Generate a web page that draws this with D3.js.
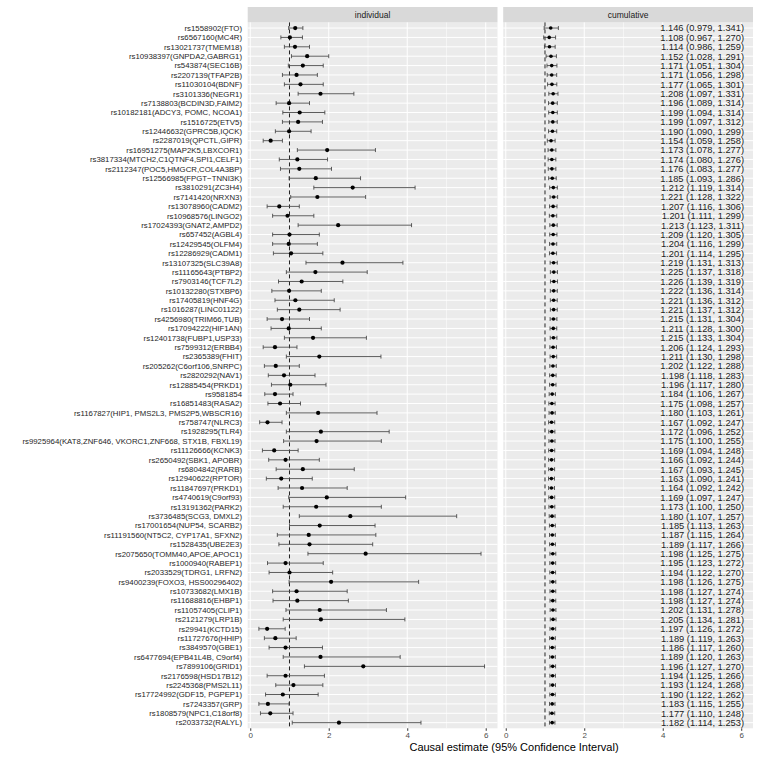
<!DOCTYPE html>
<html lang="en">
<head>
<meta charset="UTF-8">
<title>Causal estimate forest plot</title>
<script src="https://d3js.org/d3.v7.min.js"></script>
<style>
  body { margin: 0; background: #fff; }
  svg { font-family: "Liberation Sans", Arial, sans-serif; }
</style>
</head>
<body>
<svg id="chart" width="760" height="760"></svg>
<script>
const snps = [
  "rs1558902(FTO)", "rs6567160(MC4R)", "rs13021737(TMEM18)", "rs10938397(GNPDA2,GABRG1)",
  "rs543874(SEC16B)", "rs2207139(TFAP2B)", "rs11030104(BDNF)", "rs3101336(NEGR1)",
  "rs7138803(BCDIN3D,FAIM2)", "rs10182181(ADCY3, POMC, NCOA1)", "rs1516725(ETV5)",
  "rs12446632(GPRC5B,IQCK)", "rs2287019(QPCTL,GIPR)", "rs16951275(MAP2K5,LBXCOR1)",
  "rs3817334(MTCH2,C1QTNF4,SPI1,CELF1)", "rs2112347(POC5,HMGCR,COL4A3BP)",
  "rs12566985(FPGT\u2212TNNI3K)", "rs3810291(ZC3H4)", "rs7141420(NRXN3)", "rs13078960(CADM2)",
  "rs10968576(LINGO2)", "rs17024393(GNAT2,AMPD2)", "rs657452(AGBL4)", "rs12429545(OLFM4)",
  "rs12286929(CADM1)", "rs13107325(SLC39A8)", "rs11165643(PTBP2)", "rs7903146(TCF7L2)",
  "rs10132280(STXBP6)", "rs17405819(HNF4G)", "rs1016287(LINC01122)", "rs4256980(TRIM66,TUB)",
  "rs17094222(HIF1AN)", "rs12401738(FUBP1,USP33)", "rs7599312(ERBB4)", "rs2365389(FHIT)",
  "rs205262(C6orf106,SNRPC)", "rs2820292(NAV1)", "rs12885454(PRKD1)", "rs9581854",
  "rs16851483(RASA2)", "rs1167827(HIP1, PMS2L3, PMS2P5,WBSCR16)", "rs758747(NLRC3)",
  "rs1928295(TLR4)", "rs9925964(KAT8,ZNF646, VKORC1,ZNF668, STX1B, FBXL19)",
  "rs11126666(KCNK3)", "rs2650492(SBK1, APOBR)", "rs6804842(RARB)", "rs12940622(RPTOR)",
  "rs11847697(PRKD1)", "rs4740619(C9orf93)", "rs13191362(PARK2)", "rs3736485(SCG3, DMXL2)",
  "rs17001654(NUP54, SCARB2)", "rs11191560(NT5C2, CYP17A1, SFXN2)", "rs1528435(UBE2E3)",
  "rs2075650(TOMM40,APOE,APOC1)", "rs1000940(RABEP1)", "rs2033529(TDRG1, LRFN2)",
  "rs9400239(FOXO3, HSS00296402)", "rs10733682(LMX1B)", "rs11688816(EHBP1)",
  "rs11057405(CLIP1)", "rs2121279(LRP1B)", "rs29941(KCTD15)", "rs11727676(HHIP)",
  "rs3849570(GBE1)", "rs6477694(EPB41L4B, C9orf4)", "rs7899106(GRID1)", "rs2176598(HSD17B12)",
  "rs2245368(PMS2L11)", "rs17724992(GDF15, PGPEP1)", "rs7243357(GRP)",
  "rs1808579(NPC1,C18orf8)", "rs2033732(RALYL)"
];

// individual causal estimates
const indEst = [1.146, 1.01, 1.14, 1.45, 1.34, 1.18, 1.28, 1.79, 0.99, 1.26, 1.22, 0.99, 0.52, 1.96, 1.20,
  1.25, 1.67, 2.61, 1.71, 0.74, 0.95, 2.24, 1.00, 0.98, 1.04, 2.35, 1.66, 1.31, 0.99, 1.15,
  1.25, 0.81, 0.98, 1.60, 0.63, 1.76, 0.65, 0.86, 1.02, 0.63, 0.76, 1.73, 0.44, 1.80, 1.69,
  0.61, 0.90, 1.34, 0.79, 1.32, 1.95, 1.68, 2.55, 1.77, 1.49, 1.51, 2.94, 0.90, 1.00, 2.06,
  1.18, 1.20, 1.77, 1.80, 0.43, 0.64, 0.90, 1.79, 2.88, 0.90, 1.10, 0.83, 0.45, 0.51, 2.26];
const indLow = [0.979, 0.78, 0.87, 1.05, 0.97, 0.82, 0.87, 1.22, 0.66, 0.83, 0.82, 0.64, 0.33, 1.20, 0.74,
  0.77, 0.99, 1.62, 1.03, 0.43, 0.57, 1.22, 0.57, 0.57, 0.59, 1.42, 0.92, 0.72, 0.55, 0.63,
  0.69, 0.43, 0.53, 0.87, 0.33, 0.92, 0.36, 0.46, 0.54, 0.37, 0.45, 0.92, 0.24, 0.92, 0.85,
  0.31, 0.47, 0.66, 0.41, 0.71, 0.98, 0.84, 1.25, 1.00, 0.69, 0.73, 1.47, 0.44, 0.48, 0.99,
  0.57, 0.58, 0.91, 0.84, 0.22, 0.36, 0.48, 0.84, 1.38, 0.43, 0.65, 0.39, 0.22, 0.26, 1.07];
const indUp = [1.341, 1.33, 1.51, 2.00, 1.86, 1.71, 1.86, 2.64, 1.51, 1.90, 1.84, 1.55, 0.82, 3.19, 1.97,
  2.07, 2.81, 4.20, 2.94, 1.25, 1.62, 4.11, 1.76, 1.71, 1.85, 3.89, 2.98, 2.36, 1.81, 2.14,
  2.29, 1.51, 1.81, 2.96, 1.19, 3.33, 1.25, 1.65, 1.93, 1.09, 1.28, 3.23, 0.81, 3.54, 3.34,
  1.22, 1.76, 2.65, 1.58, 2.47, 3.96, 3.34, 5.26, 3.18, 3.20, 3.12, 5.88, 1.86, 2.10, 4.29,
  2.47, 2.50, 3.47, 3.94, 0.89, 1.17, 1.84, 3.82, 5.97, 1.89, 1.85, 1.73, 0.99, 1.09, 4.35];

// cumulative estimates (printed values)
const cumEst = [1.146, 1.108, 1.114, 1.152, 1.171, 1.171, 1.177, 1.208, 1.196, 1.199, 1.199, 1.190, 1.154,
  1.173, 1.174, 1.176, 1.185, 1.212, 1.221, 1.207, 1.201, 1.213, 1.209, 1.204, 1.201, 1.219, 1.225,
  1.226, 1.222, 1.221, 1.221, 1.215, 1.211, 1.215, 1.206, 1.211, 1.202, 1.198, 1.196, 1.184, 1.175,
  1.180, 1.167, 1.172, 1.175, 1.169, 1.166, 1.167, 1.163, 1.164, 1.169, 1.173, 1.180, 1.185, 1.187,
  1.189, 1.198, 1.195, 1.194, 1.198, 1.198, 1.198, 1.202, 1.205, 1.197, 1.189, 1.186, 1.189, 1.196,
  1.194, 1.193, 1.190, 1.183, 1.177, 1.182];
const cumLow = [0.979, 0.967, 0.986, 1.028, 1.051, 1.056, 1.065, 1.097, 1.089, 1.094, 1.097, 1.090, 1.059,
  1.078, 1.080, 1.083, 1.093, 1.119, 1.128, 1.116, 1.111, 1.123, 1.120, 1.116, 1.114, 1.131, 1.137,
  1.139, 1.136, 1.136, 1.137, 1.131, 1.128, 1.133, 1.124, 1.130, 1.122, 1.118, 1.117, 1.106, 1.098,
  1.103, 1.092, 1.096, 1.100, 1.094, 1.092, 1.093, 1.090, 1.092, 1.097, 1.100, 1.107, 1.113, 1.115,
  1.117, 1.125, 1.123, 1.122, 1.126, 1.127, 1.127, 1.131, 1.134, 1.126, 1.119, 1.117, 1.120, 1.127,
  1.125, 1.124, 1.122, 1.115, 1.110, 1.114];
const cumUp = [1.341, 1.270, 1.259, 1.291, 1.304, 1.298, 1.301, 1.331, 1.314, 1.314, 1.312, 1.299, 1.258,
  1.277, 1.276, 1.277, 1.286, 1.314, 1.322, 1.306, 1.299, 1.311, 1.305, 1.299, 1.295, 1.313, 1.318,
  1.319, 1.314, 1.312, 1.312, 1.304, 1.300, 1.304, 1.293, 1.298, 1.288, 1.283, 1.280, 1.267, 1.257,
  1.261, 1.247, 1.252, 1.255, 1.248, 1.244, 1.245, 1.241, 1.242, 1.247, 1.250, 1.257, 1.263, 1.264,
  1.266, 1.275, 1.272, 1.270, 1.275, 1.274, 1.274, 1.278, 1.281, 1.272, 1.263, 1.260, 1.263, 1.270,
  1.266, 1.268, 1.262, 1.255, 1.248, 1.253];

const xTicks = [0, 2, 4, 6];
const xMinor = [1, 3, 5];
const panels = ["individual", "cumulative"];

const svg = d3.select("#chart");
const panelTop = 22.4, panelBottom = 728.3;
const panelRanges = [[247.7, 497.5], [503.2, 753]];
const fmt = d3.format(".3f");

const y = d3.scalePoint().domain(snps).range([panelTop, panelBottom]).padding(0.6);

panels.forEach((name, p) => {
  const x = d3.scaleLinear().domain([-0.065, 6.3]).range(panelRanges[p]);
  const [x0, x1] = panelRanges[p];
  const g = svg.append("g");

  // background + strip
  g.append("rect").attr("x", x0).attr("y", panelTop).attr("width", x1 - x0).attr("height", panelBottom - panelTop)
    .attr("fill", "#ebebeb");
  g.append("rect").attr("x", x0).attr("y", 7).attr("width", x1 - x0).attr("height", panelTop - 7)
    .attr("fill", "#d9d9d9");
  g.append("text").attr("x", (x0 + x1) / 2).attr("y", panelTop - 4.5).attr("text-anchor", "middle")
    .attr("font-size", 8.5).attr("fill", "#1a1a1a").text(name);

  // grid
  g.selectAll(".minor").data(xMinor).enter().append("line")
    .attr("x1", d => x(d)).attr("x2", d => x(d)).attr("y1", panelTop).attr("y2", panelBottom)
    .attr("stroke", "#fff").attr("stroke-width", 0.5);
  g.selectAll(".major").data(xTicks).enter().append("line")
    .attr("x1", d => x(d)).attr("x2", d => x(d)).attr("y1", panelTop).attr("y2", panelBottom)
    .attr("stroke", "#fff").attr("stroke-width", 1);
  g.selectAll(".hgrid").data(snps).enter().append("line")
    .attr("x1", x0).attr("x2", x1).attr("y1", d => y(d)).attr("y2", d => y(d))
    .attr("stroke", "#fff").attr("stroke-width", 1);

  // reference line at 1
  g.append("line").attr("x1", x(1)).attr("x2", x(1)).attr("y1", panelTop).attr("y2", panelBottom)
    .attr("stroke", "#222").attr("stroke-width", 1).attr("stroke-dasharray", "4,3");

  const est = p === 0 ? indEst : cumEst;
  const lo = p === 0 ? indLow : cumLow;
  const hi = p === 0 ? indUp : cumUp;
  const rows = snps.map((s, i) => ({s, e: est[i], l: lo[i], u: hi[i]}));

  const bars = g.selectAll(".bar").data(rows).enter().append("g")
    .attr("stroke", "#4a4a4a").attr("stroke-width", 0.9);
  bars.append("line").attr("x1", d => x(d.l)).attr("x2", d => x(d.u))
    .attr("y1", d => y(d.s)).attr("y2", d => y(d.s));
  bars.append("line").attr("x1", d => x(d.l)).attr("x2", d => x(d.l))
    .attr("y1", d => y(d.s) - 2).attr("y2", d => y(d.s) + 2);
  bars.append("line").attr("x1", d => x(d.u)).attr("x2", d => x(d.u))
    .attr("y1", d => y(d.s) - 2).attr("y2", d => y(d.s) + 2);
  bars.append("circle").attr("cx", d => x(d.e)).attr("cy", d => y(d.s))
    .attr("r", p === 0 ? 2.1 : 1.8).attr("fill", "#000").attr("stroke", "none");

  if (p === 1) {
    g.selectAll(".lab").data(rows).enter().append("text")
      .attr("x", 744).attr("y", d => y(d.s)).attr("dy", "0.36em")
      .attr("text-anchor", "end").attr("font-size", 9.3).attr("fill", "#222")
      .text(d => `${fmt(d.e)} (${fmt(d.l)}, ${fmt(d.u)})`);
  }

  // bottom axis
  const ax = g.append("g").attr("transform", `translate(0,${panelBottom})`)
    .call(d3.axisBottom(x).tickValues(xTicks).tickSize(2.5).tickPadding(2).tickFormat(d3.format("d")));
  ax.select(".domain").remove();
  ax.selectAll("line").attr("stroke", "#333");
  ax.selectAll("text").attr("font-size", 8).attr("fill", "#4d4d4d")
    .attr("font-family", "'Liberation Sans', Arial, sans-serif");
});

// y labels
svg.append("g").selectAll("text").data(snps).enter().append("text")
  .attr("x", 242).attr("y", d => y(d)).attr("dy", "0.36em").attr("text-anchor", "end")
  .attr("font-size", 7.8).attr("fill", "#262626").text(d => d);

svg.append("text").attr("x", 514).attr("y", 751).attr("text-anchor", "middle")
  .attr("font-size", 11).attr("fill", "#000").text("Causal estimate (95% Confidence Interval)");
</script>
</body>
</html>
